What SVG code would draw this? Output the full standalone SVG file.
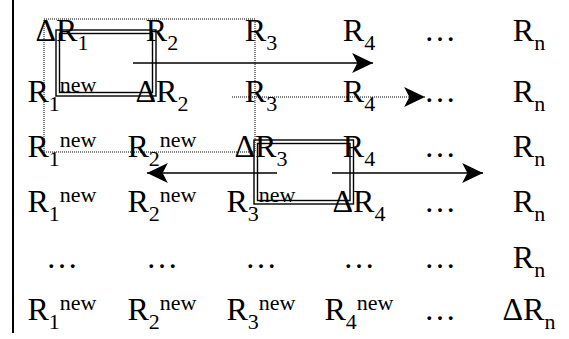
<svg xmlns="http://www.w3.org/2000/svg" width="569" height="339" viewBox="0 0 569 339">
  <style>
    text { font-family: "Liberation Serif", "Times New Roman", serif; font-size: 32px; fill: #000; text-anchor: middle; }
    .s { font-size: 22px; }
    .dot { fill: none; stroke: #000; stroke-width: 1; stroke-dasharray: 1 1; }
    .box { fill: none; stroke: #000; stroke-width: 1.4; }
    .arr { fill: none; stroke: #000; stroke-width: 1.5; }
  </style>
  <defs>
    <marker id="head" markerUnits="userSpaceOnUse" markerWidth="24" markerHeight="24" viewBox="-21 -11 23 22" refX="0" refY="0" orient="auto">
      <path d="M0,0 L-20,-9.5 L-15,0 L-20,9.5 Z" fill="#000"/>
    </marker>
  </defs>
  <rect width="569" height="339" fill="#fff"/>

  <!-- left rule -->
  <line x1="13" y1="0" x2="13" y2="333" stroke="#000" stroke-width="2"/>

  <!-- dotted frame -->
  <rect id="frame" class="dot" x="44" y="19" width="211" height="133"/>

  <!-- double-line boxes -->
  <g id="box1">
    <rect class="box" x="56" y="30" width="100" height="66"/>
    <rect class="box" x="59.5" y="33.5" width="93" height="59"/>
  </g>
  <g id="box2">
    <rect class="box" x="254" y="140" width="99.5" height="64"/>
    <rect class="box" x="257.5" y="143.5" width="92.5" height="57"/>
  </g>

  <!-- matrix cells -->
  <g id="row1">
    <text id="c11" x="62" y="41">ΔR<tspan class="s" dy="9">1</tspan></text>
    <text id="c12" x="162" y="41">R<tspan class="s" dy="9">2</tspan></text>
    <text id="c13" x="261" y="41">R<tspan class="s" dy="9">3</tspan></text>
    <text id="c14" x="359" y="41">R<tspan class="s" dy="9">4</tspan></text>
    <text id="c15" x="440" y="41">…</text>
    <text id="c16" x="529" y="41">R<tspan class="s" dy="9">n</tspan></text>
  </g>
  <g id="row2">
    <text id="c21" x="62" y="102">R<tspan class="s" dy="9">1</tspan><tspan class="s" dy="-19">new</tspan></text>
    <text id="c22" x="162" y="102">ΔR<tspan class="s" dy="9">2</tspan></text>
    <text id="c23" x="261" y="102">R<tspan class="s" dy="9">3</tspan></text>
    <text id="c24" x="359" y="102">R<tspan class="s" dy="9">4</tspan></text>
    <text id="c25" x="440" y="102">…</text>
    <text id="c26" x="529" y="102">R<tspan class="s" dy="9">n</tspan></text>
  </g>
  <g id="row3">
    <text id="c31" x="62" y="157">R<tspan class="s" dy="9">1</tspan><tspan class="s" dy="-19">new</tspan></text>
    <text id="c32" x="162" y="157">R<tspan class="s" dy="9">2</tspan><tspan class="s" dy="-19">new</tspan></text>
    <text id="c33" x="261" y="157">ΔR<tspan class="s" dy="9">3</tspan></text>
    <text id="c34" x="359" y="157">R<tspan class="s" dy="9">4</tspan></text>
    <text id="c35" x="440" y="157">…</text>
    <text id="c36" x="529" y="157">R<tspan class="s" dy="9">n</tspan></text>
  </g>
  <g id="row4">
    <text id="c41" x="62" y="212">R<tspan class="s" dy="9">1</tspan><tspan class="s" dy="-19">new</tspan></text>
    <text id="c42" x="162" y="212">R<tspan class="s" dy="9">2</tspan><tspan class="s" dy="-19">new</tspan></text>
    <text id="c43" x="261" y="212">R<tspan class="s" dy="9">3</tspan><tspan class="s" dy="-19">new</tspan></text>
    <text id="c44" x="359" y="212">ΔR<tspan class="s" dy="9">4</tspan></text>
    <text id="c45" x="440" y="212">…</text>
    <text id="c46" x="529" y="212">R<tspan class="s" dy="9">n</tspan></text>
  </g>
  <g id="row5">
    <text id="c51" x="62" y="268">…</text>
    <text id="c52" x="162" y="268">…</text>
    <text id="c53" x="261" y="268">…</text>
    <text id="c54" x="359" y="268">…</text>
    <text id="c55" x="440" y="268">…</text>
    <text id="c56" x="529" y="268">R<tspan class="s" dy="9">n</tspan></text>
  </g>
  <g id="row6">
    <text id="c61" x="62" y="320">R<tspan class="s" dy="9">1</tspan><tspan class="s" dy="-19">new</tspan></text>
    <text id="c62" x="162" y="320">R<tspan class="s" dy="9">2</tspan><tspan class="s" dy="-19">new</tspan></text>
    <text id="c63" x="261" y="320">R<tspan class="s" dy="9">3</tspan><tspan class="s" dy="-19">new</tspan></text>
    <text id="c64" x="359" y="320">R<tspan class="s" dy="9">4</tspan><tspan class="s" dy="-19">new</tspan></text>
    <text id="c65" x="440" y="320">…</text>
    <text id="c66" x="529" y="320">ΔR<tspan class="s" dy="9">n</tspan></text>
  </g>

  <!-- connectors -->
  <g id="connectors">
    <line class="arr" x1="133" y1="63" x2="373" y2="63" marker-end="url(#head)"/>
    <line class="dot" x1="232" y1="97" x2="425" y2="97" marker-end="url(#head)"/>
    <line class="arr" x1="277" y1="173" x2="147" y2="173" marker-end="url(#head)"/>
    <line class="arr" x1="332" y1="173" x2="483" y2="173" marker-end="url(#head)"/>
  </g>
</svg>
